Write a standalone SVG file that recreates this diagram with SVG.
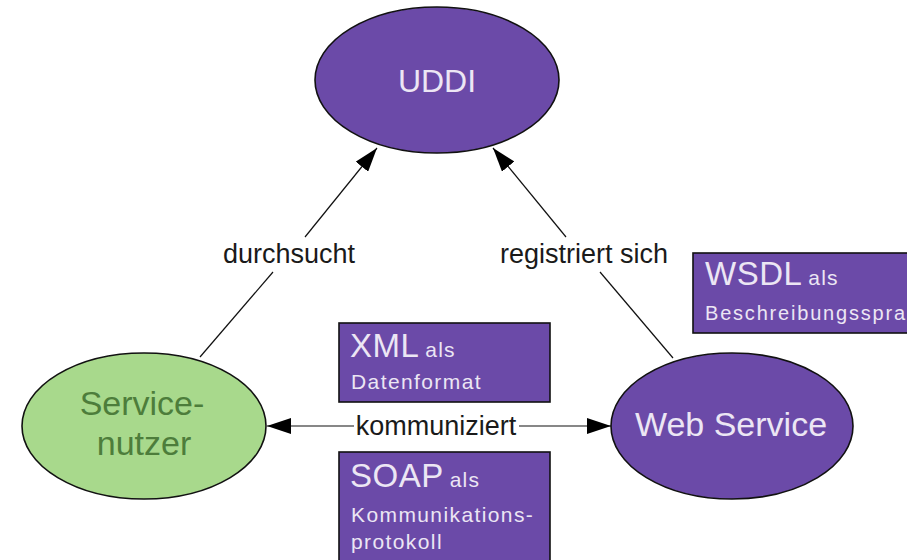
<svg xmlns="http://www.w3.org/2000/svg" width="907" height="560" viewBox="0 0 907 560">
  <style>
    .node { stroke: #111; stroke-width: 1.6; }
    .purple { fill: #6b4aa8; }
    .green { fill: #a8d98c; }
    .label { font-family: "Liberation Sans", Arial, sans-serif; }
    .light { fill: #ece6f4; }
    .dark { fill: #1a1a1a; }
    .big { font-size: 33px; letter-spacing: 0.5px; }
    .small { font-size: 21px; letter-spacing: 1.2px; }
    .body { font-size: 21px; letter-spacing: 1.4px; }
    .edge { stroke: #111; stroke-width: 1.2; fill: none; }
  </style>
  <defs>
    <marker id="arrow" viewBox="0 0 24 16" refX="24" refY="8" markerWidth="24" markerHeight="16" markerUnits="userSpaceOnUse" orient="auto-start-reverse">
      <path d="M0,0 L24,8 L0,16 Z" fill="#000"/>
    </marker>
  </defs>
  <rect width="907" height="560" fill="#fff"/>

  <g id="connectors">
    <!-- durchsucht -->
    <line class="edge" x1="200" y1="357" x2="273" y2="272"/>
    <line class="edge" x1="305" y1="237" x2="377" y2="148" marker-end="url(#arrow)"/>
    <text class="label dark" x="289" y="263" font-size="27" text-anchor="middle">durchsucht</text>
    <!-- registriert sich -->
    <line class="edge" x1="673" y1="358" x2="600" y2="272"/>
    <line class="edge" x1="566" y1="237" x2="493" y2="148" marker-end="url(#arrow)"/>
    <text class="label dark" x="584" y="263" font-size="27" text-anchor="middle">registriert sich</text>
    <!-- kommuniziert -->
    <line class="edge" x1="354" y1="426" x2="267" y2="426" marker-end="url(#arrow)"/>
    <line class="edge" x1="519" y1="426" x2="611" y2="426" marker-end="url(#arrow)"/>
    <text class="label dark" x="436" y="435" font-size="27" text-anchor="middle">kommuniziert</text>
  </g>

  <g id="uddi">
    <ellipse class="node purple" cx="437" cy="80" rx="122" ry="73"/>
    <text class="label light" x="437" y="92" font-size="32" text-anchor="middle">UDDI</text>
  </g>

  <g id="servicenutzer">
    <ellipse class="node green" cx="144" cy="426" rx="122" ry="73"/>
    <text class="label" fill="#4d7d3b" x="142" y="415" font-size="34" text-anchor="middle">Service-</text>
    <text class="label" fill="#4d7d3b" x="144" y="455" font-size="34" text-anchor="middle">nutzer</text>
  </g>

  <g id="webservice">
    <ellipse class="node purple" cx="732" cy="426" rx="121" ry="73"/>
    <text class="label light" x="731" y="436" font-size="34" text-anchor="middle">Web Service</text>
  </g>

  <g id="xml">
    <rect class="node purple" x="339" y="323" width="211" height="79"/>
    <text class="label light" x="350" y="357"><tspan class="big">XML</tspan><tspan class="small" dx="6">als</tspan></text>
    <text class="label light body" x="351" y="389">Datenformat</text>
  </g>

  <g id="soap">
    <rect class="node purple" x="339" y="452" width="211" height="120"/>
    <text class="label light" x="350" y="487"><tspan class="big">SOAP</tspan><tspan class="small" dx="6">als</tspan></text>
    <text class="label light body" x="351" y="522">Kommunikations-</text>
    <text class="label light body" x="351" y="549">protokoll</text>
  </g>

  <g id="wsdl">
    <rect class="node purple" x="693" y="253" width="230" height="80"/>
    <text class="label light" x="705" y="285"><tspan class="big">WSDL</tspan><tspan class="small" dx="6">als</tspan></text>
    <text class="label light" x="705" y="320" font-size="20" letter-spacing="1.8">Beschreibungssprache</text>
  </g>
</svg>
